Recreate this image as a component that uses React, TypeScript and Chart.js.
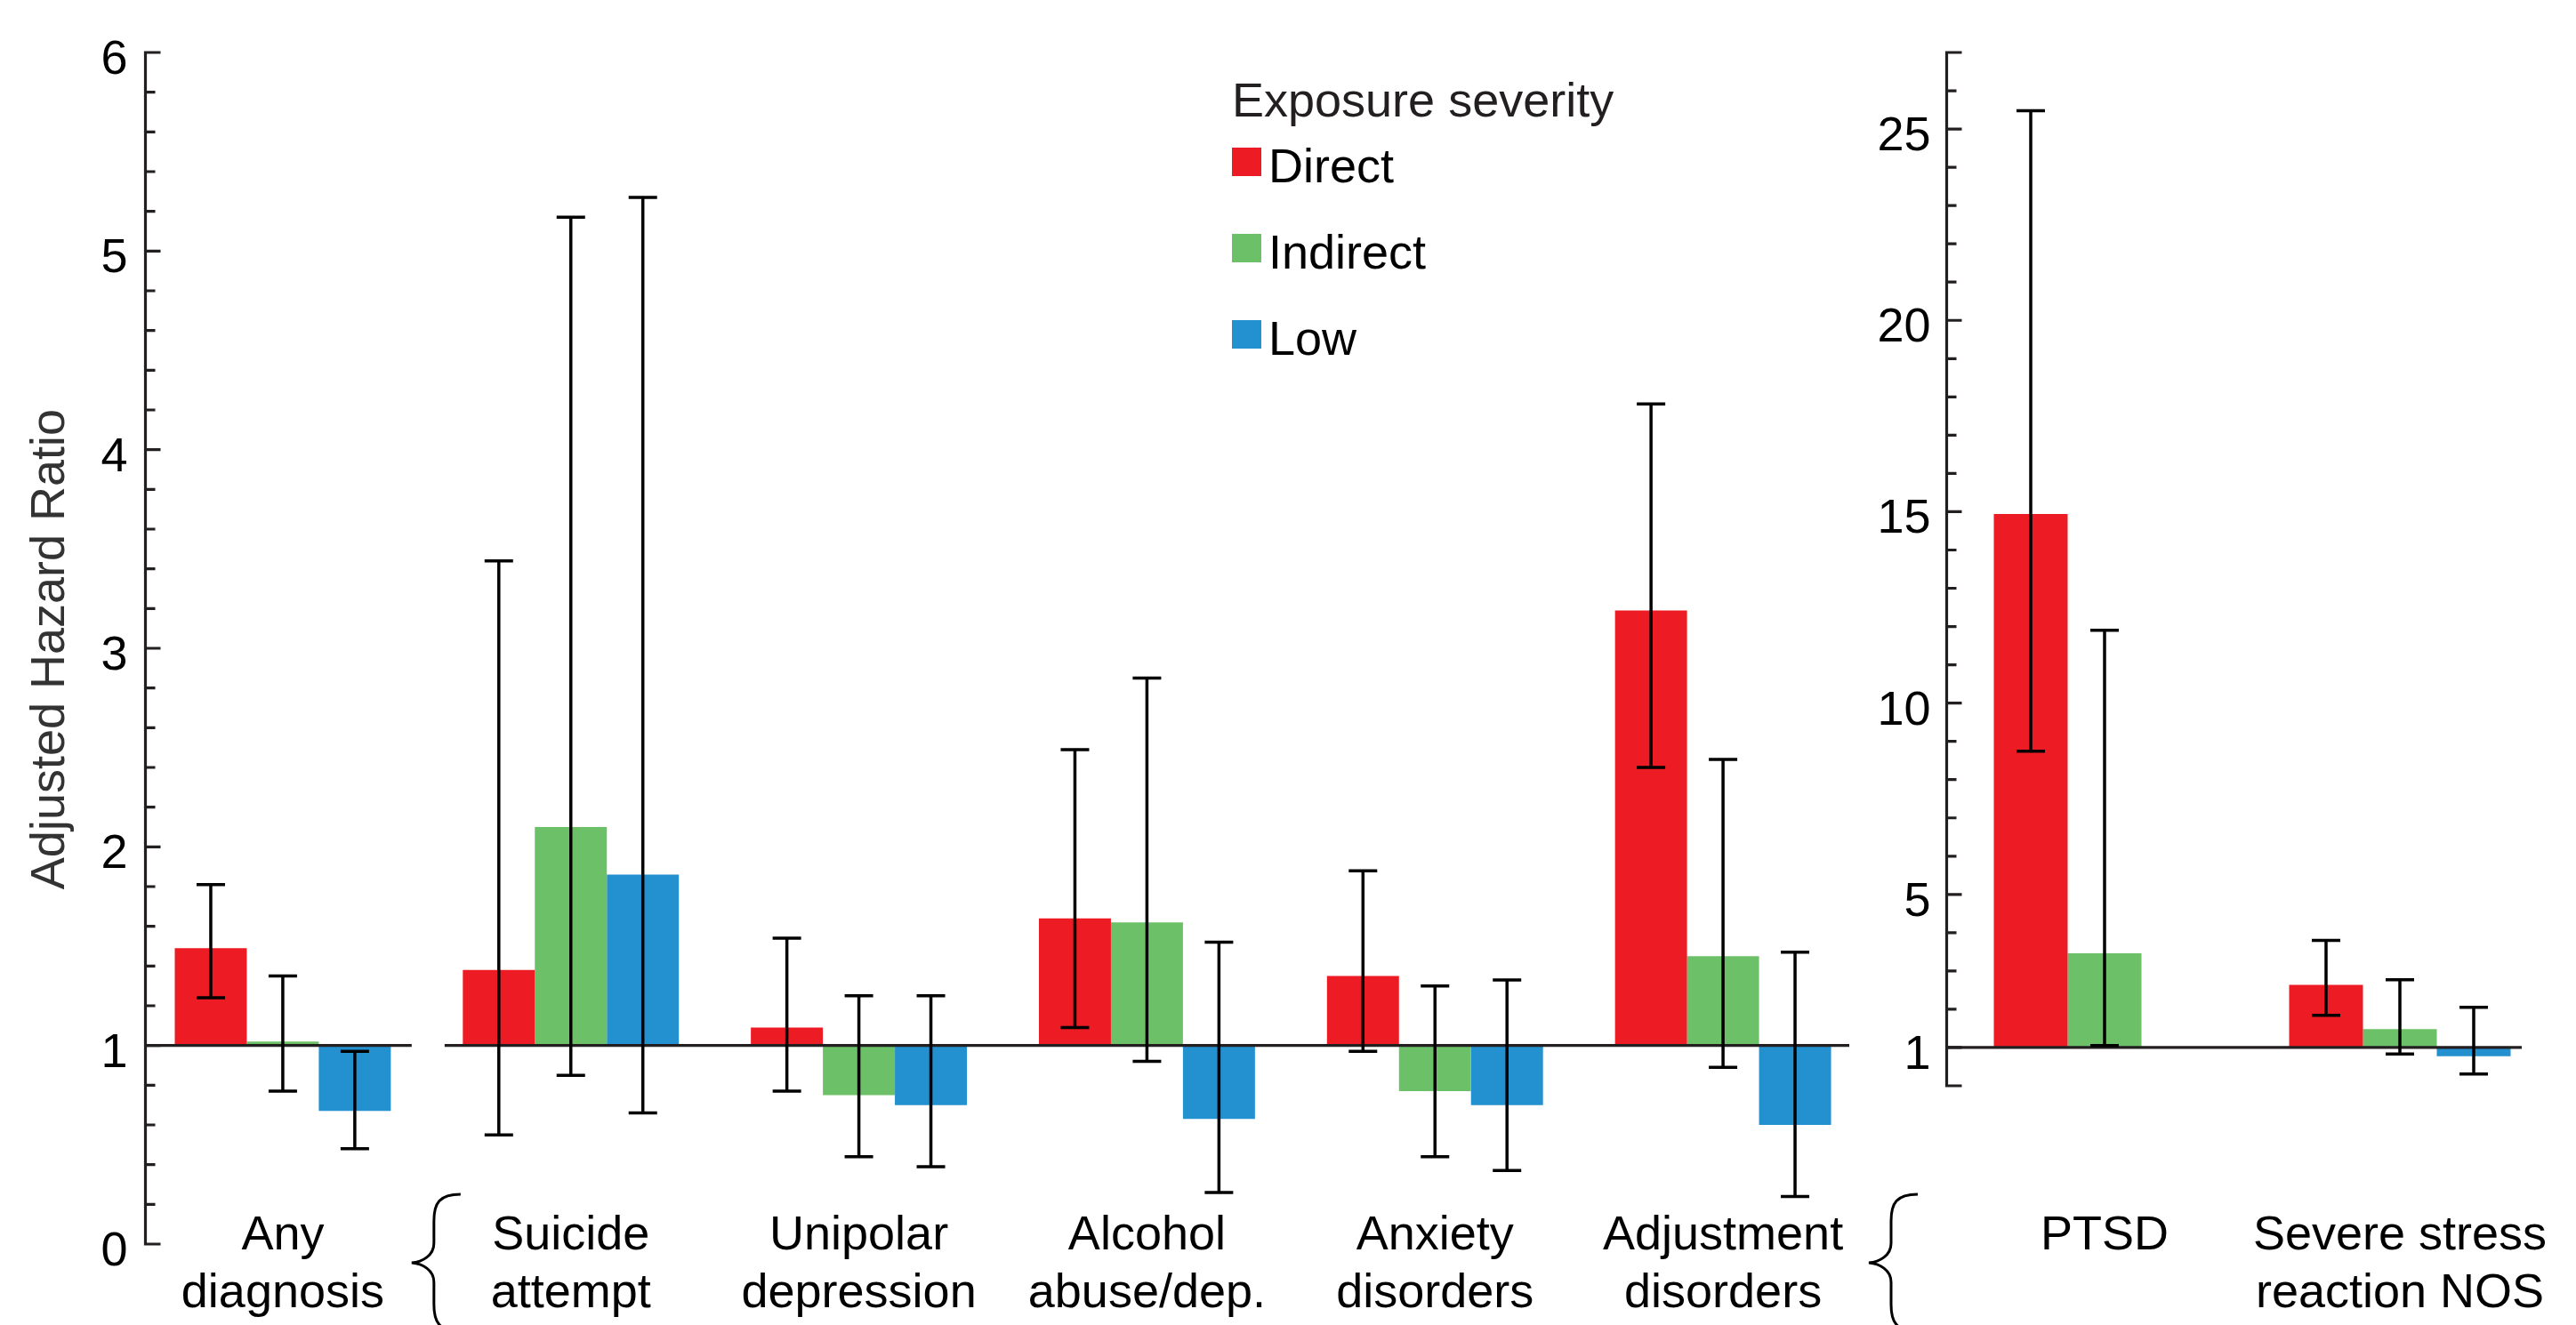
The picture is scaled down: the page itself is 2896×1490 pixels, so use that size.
import React, { useEffect, useRef } from 'react';
import { Chart, registerables } from 'chart.js';

Chart.register(...registerables);

// ---------------- data ----------------
const SERIES_LABELS = ['Direct', 'Indirect', 'Low'];
const SERIES_COLORS = ['#ED1C24', '#6CC067', '#2390CF'];
const LEGEND_TITLE = 'Exposure severity';
const Y_TITLE = 'Adjusted Hazard Ratio';
const REFERENCE_VALUE = 1;

const LEFT_CATEGORIES = [
  ['Any', 'diagnosis'],
  ['Suicide', 'attempt'],
  ['Unipolar', 'depression'],
  ['Alcohol', 'abuse/dep.'],
  ['Anxiety', 'disorders'],
  ['Adjustment', 'disorders'],
];
const LEFT_DIRECT = [1.49, 1.38, 1.09, 1.64, 1.35, 3.19];
const LEFT_DIRECT_CI_LOW = [1.24, 0.55, 0.77, 1.09, 0.97, 2.4];
const LEFT_DIRECT_CI_HIGH = [1.81, 3.44, 1.54, 2.49, 1.88, 4.23];
const LEFT_INDIRECT = [1.02, 2.1, 0.75, 1.62, 0.77, 1.45];
const LEFT_INDIRECT_CI_LOW = [0.77, 0.85, 0.44, 0.92, 0.44, 0.89];
const LEFT_INDIRECT_CI_HIGH = [1.35, 5.17, 1.25, 2.85, 1.3, 2.44];
const LEFT_LOW = [0.67, 1.86, 0.7, 0.63, 0.7, 0.6];
const LEFT_LOW_CI_LOW = [0.48, 0.66, 0.39, 0.26, 0.37, 0.24];
const LEFT_LOW_CI_HIGH = [0.97, 5.27, 1.25, 1.52, 1.33, 1.47];

const RIGHT_CATEGORIES = [['PTSD'], ['Severe stress', 'reaction NOS']];
const RIGHT_DIRECT = [14.94, 2.64];
const RIGHT_DIRECT_CI_LOW = [8.74, 1.84];
const RIGHT_DIRECT_CI_HIGH = [25.48, 3.8];
const RIGHT_INDIRECT = [3.46, 1.48];
const RIGHT_INDIRECT_CI_LOW = [1.05, 0.83];
const RIGHT_INDIRECT_CI_HIGH = [11.9, 2.77];
const RIGHT_LOW: (number | null)[] = [null, 0.77];
const RIGHT_LOW_CI_LOW: (number | null)[] = [null, 0.31];
const RIGHT_LOW_CI_HIGH: (number | null)[] = [null, 2.05];

const LEFT_Y_MIN = 0;
const LEFT_Y_MAX = 6;
const LEFT_Y_TICK_LABELS = [0, 1, 2, 3, 4, 5, 6];
const LEFT_Y_MINOR_STEP = 0.2;

const RIGHT_Y_MIN = 0;
const RIGHT_Y_MAX = 27;
const RIGHT_Y_TICK_LABELS = [1, 5, 10, 15, 20, 25];
const RIGHT_Y_MINOR_STEP = 1;

// ---------------- styles ----------------
const FONT = '"Liberation Sans", Arial, Helvetica, sans-serif';
const AXIS_COLOR = '#231F20';
const INK = '#000000';

type Cfg = {
  axisOffset: number;
  labelGap: number;
  minorStep: number;
  majorTicks: number[];
  tickLabels: number[];
  categories: string[][];
  lo: (number | null)[][];
  hi: (number | null)[][];
  baselineEndOffset: number;
  gapAfterFirst: boolean;
  main: boolean;
};

function drawBrace(ctx: CanvasRenderingContext2D, tipX: number, top: number, tipY: number, bottom: number) {
  const stem = tipX + 25;
  const end = tipX + 55;
  ctx.beginPath();
  ctx.moveTo(end, top);
  ctx.bezierCurveTo(stem + 6, top, stem, top + 10, stem, top + 30);
  ctx.lineTo(stem, tipY - 22);
  ctx.bezierCurveTo(stem, tipY - 8, tipX + 12, tipY - 1, tipX, tipY);
  ctx.bezierCurveTo(tipX + 12, tipY + 1, stem, tipY + 8, stem, tipY + 22);
  ctx.lineTo(stem, bottom - 30);
  ctx.bezierCurveTo(stem, bottom - 10, stem + 6, bottom, end, bottom);
  ctx.stroke();
}

function makeDecor(cfg: Cfg) {
  return {
    id: cfg.main ? 'decorLeft' : 'decorRight',
    afterDatasetsDraw(chart: any) {
      const ctx: CanvasRenderingContext2D = chart.ctx;
      const area = chart.chartArea;
      const xs = chart.scales.x;
      const ys = chart.scales.y;
      ctx.save();

      const axisX = Math.round(area.left + cfg.axisOffset) + 0.5;
      const baseY = ys.getPixelForValue(REFERENCE_VALUE);

      // reference line at HR = 1
      ctx.strokeStyle = AXIS_COLOR;
      ctx.lineWidth = 3.2;
      ctx.lineCap = 'butt';
      const endX = area.right + cfg.baselineEndOffset;
      const segs: number[][] = [];
      if (cfg.gapAfterFirst) {
        const b = (xs.getPixelForValue(0) + xs.getPixelForValue(1)) / 2;
        segs.push([axisX, b - 17], [b + 20, endX]);
      } else {
        segs.push([axisX, endX]);
      }
      ctx.beginPath();
      for (const [a, b] of segs) {
        ctx.moveTo(a, baseY);
        ctx.lineTo(b, baseY);
      }
      ctx.stroke();

      // error bars
      ctx.strokeStyle = INK;
      ctx.lineWidth = 3.5;
      chart.data.datasets.forEach((ds: any, d: number) => {
        const meta = chart.getDatasetMeta(d);
        ds.data.forEach((v: any, i: number) => {
          const lo = cfg.lo[d][i];
          const hi = cfg.hi[d][i];
          if (v == null || lo == null || hi == null) return;
          const el = meta.data[i];
          const bx = el.x;
          const yLo = ys.getPixelForValue(lo);
          const yHi = ys.getPixelForValue(hi);
          ctx.beginPath();
          ctx.moveTo(bx, yHi);
          ctx.lineTo(bx, yLo);
          ctx.moveTo(bx - 16, yHi);
          ctx.lineTo(bx + 16, yHi);
          ctx.moveTo(bx - 16, yLo);
          ctx.lineTo(bx + 16, yLo);
          ctx.stroke();
        });
      });

      // y axis with inward ticks
      ctx.strokeStyle = AXIS_COLOR;
      ctx.lineWidth = 3.2;
      const yTop = ys.getPixelForValue(ys.max);
      const yBot = ys.getPixelForValue(ys.min);
      ctx.beginPath();
      ctx.moveTo(axisX, yTop - 1.6);
      ctx.lineTo(axisX, yBot + 1.6);
      const n = Math.round((ys.max - ys.min) / cfg.minorStep);
      for (let k = 0; k <= n; k++) {
        const v = ys.min + k * cfg.minorStep;
        const major = k === 0 || k === n || cfg.majorTicks.some((m) => Math.abs(m - v) < 1e-6);
        const py = ys.getPixelForValue(v);
        ctx.moveTo(axisX, py);
        ctx.lineTo(axisX + (major ? 17 : 11), py);
      }
      ctx.stroke();

      ctx.fillStyle = INK;
      ctx.font = `54px ${FONT}`;
      ctx.textAlign = 'right';
      ctx.textBaseline = 'alphabetic';
      for (const t of cfg.tickLabels) {
        ctx.fillText(String(t), axisX - cfg.labelGap, ys.getPixelForValue(t) + 24);
      }

      // category labels
      ctx.textAlign = 'center';
      const LINE_BASES = [1405, 1470];
      cfg.categories.forEach((lines, i) => {
        const cx = xs.getPixelForValue(i);
        lines.forEach((line, j) => ctx.fillText(line, cx, LINE_BASES[j]));
      });

      if (cfg.main) {
        // braces
        ctx.strokeStyle = INK;
        ctx.lineWidth = 3;
        const b = (xs.getPixelForValue(0) + xs.getPixelForValue(1)) / 2;
        drawBrace(ctx, b - 17, 1343, 1420, 1497);
        drawBrace(ctx, area.right + 2, 1343, 1420, 1497);

        // y title
        ctx.save();
        ctx.translate(72, (yTop + yBot) / 2 + 1);
        ctx.rotate(-Math.PI / 2);
        ctx.fillStyle = '#333333';
        ctx.textAlign = 'center';
        ctx.textBaseline = 'alphabetic';
        ctx.font = `54px ${FONT}`;
        ctx.fillText(Y_TITLE, 0, 0);
        ctx.restore();

        // legend
        ctx.textAlign = 'left';
        ctx.fillStyle = AXIS_COLOR;
        ctx.font = `54px ${FONT}`;
        ctx.fillText(LEGEND_TITLE, 1385, 131);
        chart.data.datasets.forEach((ds: any, k: number) => {
          ctx.fillStyle = ds.backgroundColor;
          ctx.fillRect(1385, 166 + 97 * k, 33, 32);
          ctx.fillStyle = INK;
          ctx.fillText(ds.label, 1426, 205 + 97 * k);
        });
      }
      ctx.restore();
    },
  };
}

function makeDatasets(values: (number | null)[][]) {
  return values.map((vals, k) => ({
    label: SERIES_LABELS[k],
    data: vals.map((v) => (v == null ? null : [REFERENCE_VALUE, v])),
    backgroundColor: SERIES_COLORS[k],
    borderWidth: 0,
    categoryPercentage: 0.75,
    barPercentage: 1,
  }));
}

function baseOptions(padding: any, yMin: number, yMax: number) {
  return {
    responsive: false,
    animation: false,
    events: [],
    layout: { padding },
    plugins: { legend: { display: false }, tooltip: { enabled: false }, title: { display: false } },
    scales: {
      x: { display: false, offset: true },
      y: { display: false, min: yMin, max: yMax },
    },
  };
}

export default function App() {
  const leftRef = useRef<HTMLCanvasElement>(null);
  const rightRef = useRef<HTMLCanvasElement>(null);

  useEffect(() => {
    const left = new Chart(leftRef.current as HTMLCanvasElement, {
      type: 'bar',
      data: {
        labels: LEFT_CATEGORIES.map((l) => l.join(' ')),
        datasets: makeDatasets([LEFT_DIRECT, LEFT_INDIRECT, LEFT_LOW]) as any,
      },
      options: baseOptions({ left: 156, right: 797, top: 59, bottom: 91 }, LEFT_Y_MIN, LEFT_Y_MAX) as any,
      plugins: [
        makeDecor({
          axisOffset: 7,
          labelGap: 20,
          minorStep: LEFT_Y_MINOR_STEP,
          majorTicks: LEFT_Y_TICK_LABELS,
          tickLabels: LEFT_Y_TICK_LABELS,
          categories: LEFT_CATEGORIES,
          lo: [LEFT_DIRECT_CI_LOW, LEFT_INDIRECT_CI_LOW, LEFT_LOW_CI_LOW],
          hi: [LEFT_DIRECT_CI_HIGH, LEFT_INDIRECT_CI_HIGH, LEFT_LOW_CI_HIGH],
          baselineEndOffset: -20,
          gapAfterFirst: true,
          main: true,
        }),
      ],
    });
    const right = new Chart(rightRef.current as HTMLCanvasElement, {
      type: 'bar',
      data: {
        labels: RIGHT_CATEGORIES.map((l) => l.join(' ')),
        datasets: makeDatasets([RIGHT_DIRECT, RIGHT_INDIRECT, RIGHT_LOW]) as any,
      },
      options: baseOptions({ left: 2200, right: 32, top: 59, bottom: 269 }, RIGHT_Y_MIN, RIGHT_Y_MAX) as any,
      plugins: [
        makeDecor({
          axisOffset: -12,
          labelGap: 18,
          minorStep: RIGHT_Y_MINOR_STEP,
          majorTicks: RIGHT_Y_TICK_LABELS,
          tickLabels: RIGHT_Y_TICK_LABELS,
          categories: RIGHT_CATEGORIES,
          lo: [RIGHT_DIRECT_CI_LOW, RIGHT_INDIRECT_CI_LOW, RIGHT_LOW_CI_LOW],
          hi: [RIGHT_DIRECT_CI_HIGH, RIGHT_INDIRECT_CI_HIGH, RIGHT_LOW_CI_HIGH],
          baselineEndOffset: -29,
          gapAfterFirst: false,
          main: false,
        }),
      ],
    });
    return () => {
      left.destroy();
      right.destroy();
    };
  }, []);

  return (
    <div
      style={{
        position: 'fixed',
        left: 0,
        top: 0,
        width: 2896,
        height: 1490,
        background: '#ffffff',
        overflow: 'hidden',
      }}
    >
      <canvas ref={leftRef} width={2896} height={1490} style={{ position: 'absolute', left: 0, top: 0 }} />
      <canvas ref={rightRef} width={2896} height={1490} style={{ position: 'absolute', left: 0, top: 0 }} />
    </div>
  );
}
